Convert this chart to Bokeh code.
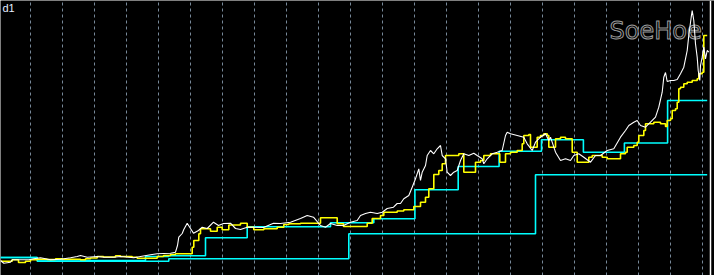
from bokeh.plotting import figure
from bokeh.models import Range1d, FixedTicker, Label, Span, Grid
from bokeh.embed import file_html
from bokeh.resources import INLINE

# ---- data (bar position, value) ----
white_x = [0, 3.3, 10, 11.7, 20, 28.3, 33.3, 40, 50, 60,
           70, 76.7, 80, 86.7, 96.7, 103.3, 113.3, 120, 133.3, 140,
           150, 156.7, 163, 170, 175, 177, 178.3, 181.7, 183.3, 186.7,
           190, 193, 198, 201.7, 206.7, 213, 218, 223, 230, 235,
           240, 246.7, 253, 263, 273, 280, 290, 300, 306.7, 313,
           320, 325, 330, 336.7, 343, 350, 356.7, 360, 365, 370,
           376.7, 381.7, 386.7, 393, 396.7, 400, 403.3, 408.3, 411.7, 415,
           418.3, 420, 421.7, 425, 426.7, 430, 433.3, 436.7, 440, 441.7,
           445, 446.7, 450, 453.3, 456.7, 460, 463.3, 468.3, 473.3, 476.7,
           481.7, 483.3, 486.7, 491.7, 496.7, 501.7, 505, 506.7, 510, 516.7,
           523.3, 526.7, 531.7, 535, 540, 545, 548.3, 550, 555, 560,
           565, 570, 573.3, 578.3, 583.3, 590, 595, 600, 606.7, 613.3,
           620, 625, 628.3, 633.3, 636.7, 640, 645, 650, 655, 658.3,
           661.7, 663.3, 665, 666.7, 670, 673.3, 676.7, 680, 683.3, 686.7,
           688.3, 690.7, 691.7, 693.3, 695, 696.7, 697.7, 699.3, 700, 701.7,
           703.3, 705, 706.7, 708.3]
white_v = [15, 12.3, 13.3, 15.7, 15.7, 15.7, 16.7, 17.7, 15.7, 16.3,
           17.7, 19, 20, 18.3, 19, 18.3, 18.3, 19, 17.7, 19,
           20.7, 21.7, 22, 22.3, 23.3, 30, 38.3, 42, 46, 52.3,
           47, 42.3, 45, 48.3, 47, 53.3, 50, 52, 52.3, 47,
           46, 48.3, 48.3, 48, 52.3, 52, 53.3, 57, 60, 58.3,
           50, 48.3, 52, 50, 50, 53.3, 55, 60, 62, 63.3,
           62, 63.3, 67, 68.3, 72, 72, 76.7, 80, 88.3, 96.7,
           106.7, 95, 103.3, 110, 120, 125, 121.7, 126.7, 130, 120,
           116.7, 103.3, 100, 103.3, 105, 115, 121.7, 120, 122.3, 120,
           116.7, 111.7, 116.7, 121.7, 123.3, 125, 140, 143.3, 141.7, 140,
           138.3, 131.7, 125, 133.3, 138.3, 141.7, 135, 138.3, 123.3, 115,
           116.7, 115, 120, 121.7, 118.3, 113.3, 120, 120, 125, 126.7,
           138.3, 145, 150, 153.3, 155, 150, 148.3, 153.3, 158.3, 168.3,
           183.3, 198.3, 203, 194, 195, 195, 196, 201.7, 208.3, 225,
           240, 258.3, 265, 255, 231.7, 218.3, 205, 195, 210, 218.3,
           228.3, 216.7, 225, 223.3]

yellow_x = [0, 11.7, 18, 25, 30, 36.7, 46.7, 55, 62, 80,
            85, 90, 96.7, 103, 115, 120, 131.7, 136.7, 156.7, 163,
            170, 175, 191.7, 193.3, 198.3, 200, 210, 216.7, 221.7, 228.3,
            240, 246.7, 253.3, 263.3, 276.7, 283.3, 288.3, 300, 320, 336.7,
            343, 366.7, 371.7, 380, 383.3, 396.7, 403.3, 413.3, 420, 425,
            428.3, 433.3, 438.3, 441.7, 445, 458.3, 463.3, 475, 480, 483.3,
            490, 499.3, 505, 510, 516.7, 521.7, 523.3, 528.3, 530, 536.7,
            540, 543.3, 546.7, 548.3, 555, 560, 565, 571.7, 576.7, 588.3,
            591.7, 601.7, 606.7, 620, 625, 626.7, 633.3, 636.7, 638.3, 643.3,
            645, 653.3, 660, 665, 666.7, 670, 671.7, 675, 676.7, 678.3,
            680, 683.3, 686.7, 691.7, 696.7, 698.3, 701.7, 703.3, 706.7]
yellow_v = [14.3, 15.7, 13, 14.3, 15.7, 16.3, 16, 16.7, 16.3, 15.7,
            16.7, 17.5, 19, 18.5, 19.7, 19, 18.3, 17.3, 19, 20,
            21, 21.7, 28.3, 35, 41.7, 46.7, 44.3, 48.3, 45.7, 50.5,
            52.3, 48.3, 45.7, 46.7, 48.3, 51, 51.7, 52.3, 57.7, 51.7,
            49, 52.3, 57, 60, 63.3, 64.5, 65.7, 69, 73.3, 78.3,
            86.7, 101, 105, 111.7, 120, 121.7, 103.3, 113.3, 115, 120,
            121.7, 113.3, 121.7, 123.3, 125, 131.7, 140, 141, 128.3, 138.3,
            140, 141.7, 140, 128.3, 136.7, 138.3, 136.7, 123.3, 113.3, 118.3,
            120, 118.3, 116.7, 121.7, 123.3, 128.3, 130, 133.3, 140, 145,
            151.7, 153.3, 151.7, 149, 155, 156.7, 165, 166.7, 173.3, 186.7,
            188.3, 191.7, 193.3, 195, 196.7, 201.7, 203.3, 240, 240]

cyan_low_x = [0, 36.7, 168.3, 348.3, 535, 706.7]
cyan_low_v = [18, 14.3, 16.7, 41.7, 100.7, 100.7]

cyan_up_x = [0, 36.7, 80, 145, 168.3, 205, 246.7, 330, 373.3, 414.4,
             457.7, 498.6, 541, 582.9, 623.9, 667.1, 706.7]
cyan_up_v = [18, 15.5, 15, 19, 19.7, 37.7, 48.7, 52.7, 56.7, 85.7,
             109, 124.3, 135.7, 123.3, 132.5, 175, 175]

grid_ticks = list(range(30, 703, 32))
end_marker = 710

# ---- figure ----
p = figure(width=714, height=275, x_range=Range1d(0, 714), y_range=Range1d(0, 275),
           x_axis_type=None, y_axis_type=None, output_backend="svg",
           toolbar_location=None, min_border=0,
           background_fill_color="black", border_fill_color="black")
p.outline_line_color = None

grid = Grid(dimension=0, ticker=FixedTicker(ticks=grid_ticks),
            grid_line_color="#778899", grid_line_dash="3 3", grid_line_width=1)
p.add_layout(grid)

# hollow watermark
p.add_layout(Label(x=609, y=275 - 30.5, x_units="screen", y_units="screen",
                   text="SoeHoe", text_font="DejaVu Sans", text_font_size="24px",
                   text_color="black", text_outline_color="#9a9a9a",
                   text_baseline="alphabetic", level="underlay"))

p.step(cyan_low_x, cyan_low_v, mode="after", line_color="#00ffff", line_width=1.6)
p.step(cyan_up_x, cyan_up_v, mode="after", line_color="#00ffff", line_width=1.6)
p.step(yellow_x, yellow_v, mode="after", line_color="#ffff00", line_width=1.6)
p.line(white_x, white_v, line_color="white", line_width=1.1)

p.add_layout(Span(location=end_marker, dimension="height", line_color="white", line_width=1.5))

p.add_layout(Label(x=2, y=274, x_units="screen", y_units="screen", text="d1",
                   text_font="Liberation Sans", text_font_size="11px",
                   text_color="#e6eeff", text_baseline="top"))

open("out.html", "w").write(file_html(p, INLINE))
